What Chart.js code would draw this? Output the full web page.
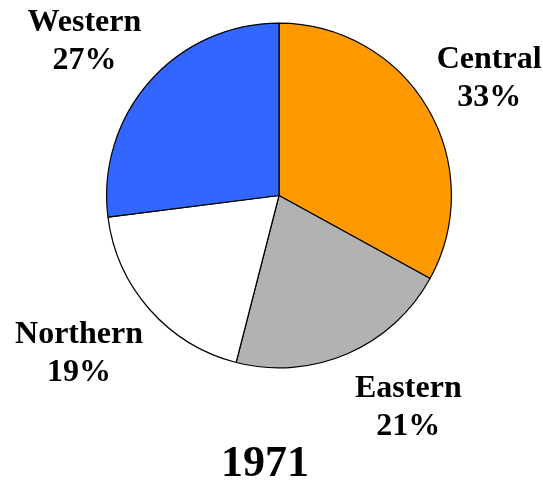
<!DOCTYPE html>
<html>
<head>
<meta charset="utf-8">
<script src="https://cdn.jsdelivr.net/npm/chart.js@4/dist/chart.umd.min.js"></script>
<style>
  html, body { margin: 0; padding: 0; background: #fff; }
  #wrap { width: 543px; height: 482px; }
</style>
</head>
<body>
<div id="wrap"><canvas id="pieChart"></canvas></div>
<script>
// data
const regions = ["Central", "Eastern", "Northern", "Western"];
const shares = [33, 21, 19, 27];
const sliceColors = ["#FF9900", "#B2B2B2", "#FFFFFF", "#3366FF"];
const chartTitle = "1971";

// label placement tweaks: angle nudge (degrees) and distance as a multiple of the radius
const labelNudge = [1.5, -8, 3, -3];
const labelDist = [1.395, 1.44, 1.48, 1.44];

const serif = "'Liberation Serif', 'Times New Roman', serif";

// draws "Name / NN%" outside each slice, plus the year underneath
const outsideLabels = {
    id: "outsideLabels",
    afterDatasetsDraw(chart) {
        const ctx = chart.ctx;
        const arcs = chart.getDatasetMeta(0).data;
        ctx.save();
        ctx.fillStyle = "#000";
        ctx.textAlign = "center";
        ctx.textBaseline = "middle";
        ctx.font = "bold 32px " + serif;
        arcs.forEach((arc, i) => {
            const mid = (arc.startAngle + arc.endAngle) / 2 + labelNudge[i] * Math.PI / 180;
            const r = arc.outerRadius * labelDist[i];
            const x = arc.x + Math.cos(mid) * r;
            const y = arc.y + Math.sin(mid) * r;
            ctx.fillText(regions[i], x, y - 19);
            ctx.fillText(shares[i] + "%", x, y + 19);
        });
        // year title
        ctx.font = "bold 44px " + serif;
        ctx.fillText(chartTitle, chart.width * 0.488, chart.height - 17);
        ctx.restore();
    }
};

function createChart() {
    let ctx = document.getElementById("pieChart").getContext("2d");
    new Chart(ctx, {
        type: "pie",
        data: {
            labels: regions,
            datasets: [{
                data: shares,
                backgroundColor: sliceColors,
                borderColor: "#000",
                borderWidth: 1.2
            }]
        },
        options: {
            responsive: true,
            maintainAspectRatio: false,
            animation: false,
            layout: { padding: { left: 106, right: 91, top: 22, bottom: 113 } },
            plugins: {
                legend: { display: false },
                tooltip: { enabled: false },
                title: { display: false }
            }
        },
        plugins: [outsideLabels]
    });
}

window.onload = createChart;
</script>
</body>
</html>
